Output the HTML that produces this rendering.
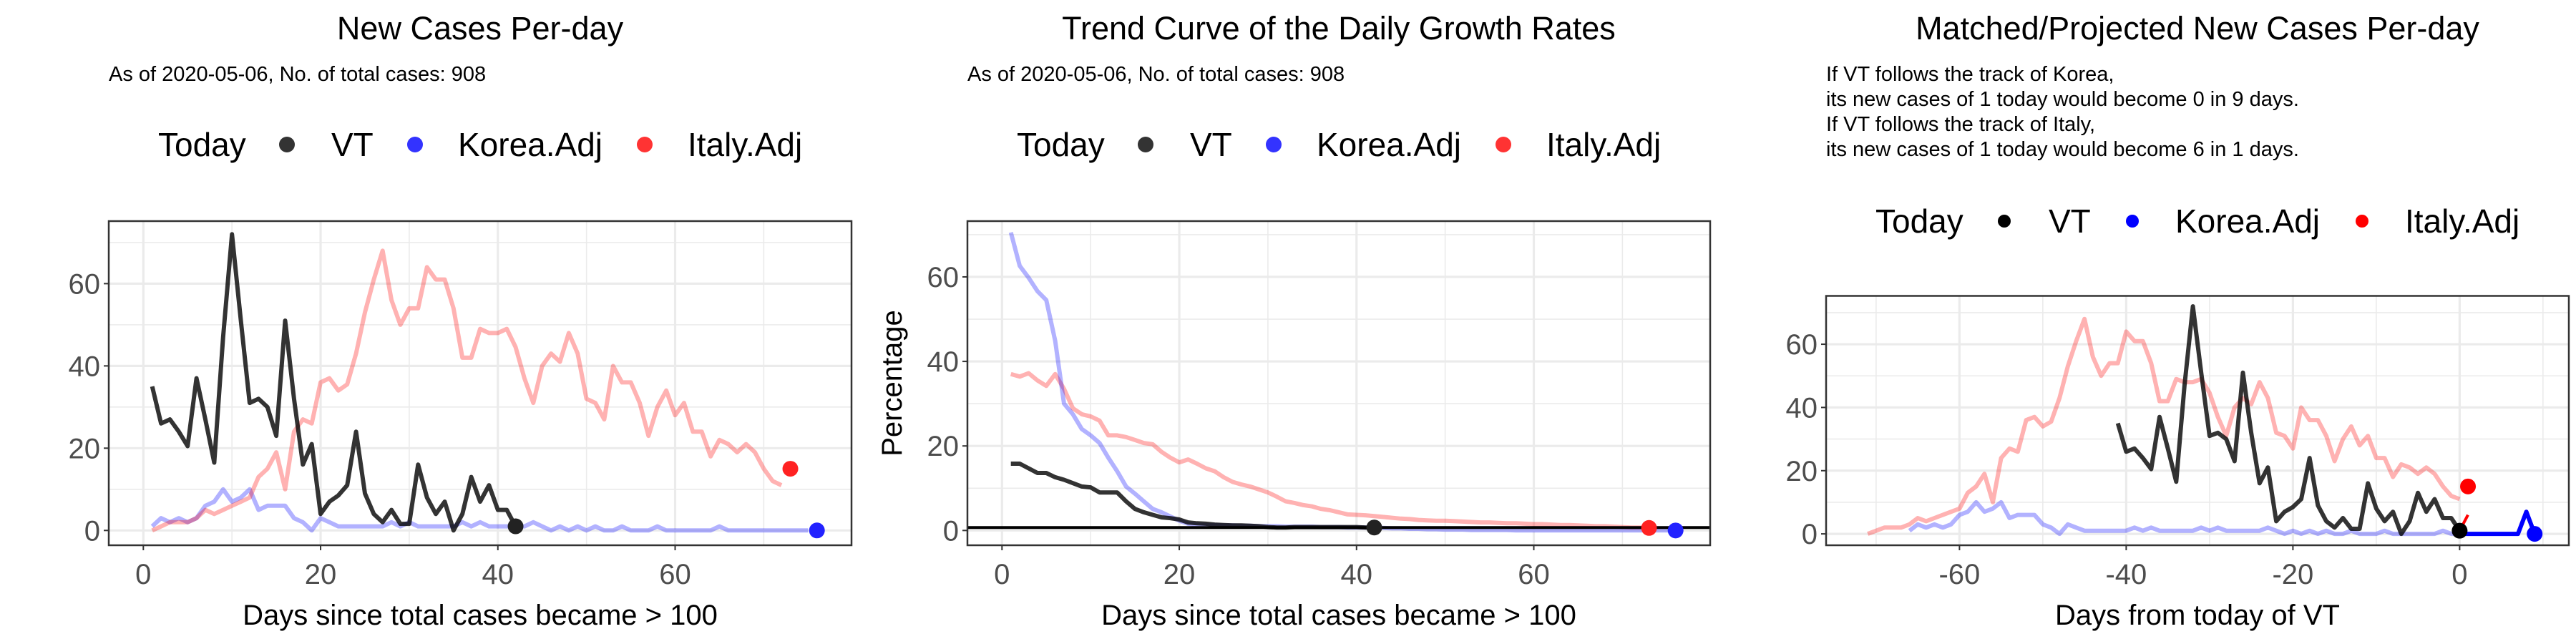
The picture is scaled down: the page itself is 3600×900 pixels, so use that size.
<!DOCTYPE html>
<html><head><meta charset="utf-8">
<style>
html,body{margin:0;padding:0;background:#fff;}
svg{display:block;font-family:"Liberation Sans",Arial,sans-serif;}
</style></head>
<body>
<svg id="chart" width="3600" height="900" viewBox="0 0 3600 900" xmlns="http://www.w3.org/2000/svg"></svg>
<script>
// ---- data ----
const vtDays = [1,2,3,4,5,6,7,8,9,10,11,12,13,14,15,16,17,18,19,20,21,22,23,24,25,26,27,28,29,30,31,32,33,34,35,36,37,38,39,40,41,42];
const vtNew = [35,26,27,24,20.5,37,27,16.5,47,72,51,31,32,30,23,51,32,16,21,4,7,8.5,11,24,9,4,2,5,1.6,1.6,16,8,4,7,0,4,13,7,11,5,5,1];
const italyNew = [0,1,2,2,2,3,5,4,5,6,7,8,13,15,19,10,24,27,26,36,37,34,35.5,43,53,61,68,56,50,54,54,64,61,61,54,42,42,49,48,48,49,44.6,37,31,40,43,41,48,43,32,31,27,40,36,36,31,23,30,34,28,31,24,24,18,22,21,19,21,19,15,12,11];
const koreaNew = [1,3,2,3,2,3,6,7,10,7,8,10,5,6,6,6,3,2,0,3,2,1,1,1,1,1,1,2,1,2,1,1,1,1,1,2,1,2,1,1,1,1,1,2,1,0,1,0,1,0,1,0,0,1,0,0,0,1,0,0,0,0,0,0,1,0,0,0,0,0,0,0,0,0,0];
const vtRate = [15.8,15.8,14.7,13.6,13.6,12.6,12,11.2,10.4,10.2,9,9,9,6.9,5.1,4.3,3.7,3.1,2.9,2.6,1.9,1.7,1.6,1.4,1.3,1.2,1.2,1.1,1.0,0.8,0.7,0.7,0.8,0.8,0.8,0.8,0.8,0.8,0.8,0.8,0.7,0.7];
const koreaRate = [70.5,62.6,59.8,56.6,54.5,44.9,30,27.5,24,22.5,20.7,17.2,14,10.4,8.7,6.9,5.1,4.3,3.3,2.3,1.6,1.4,1.3,1.3,1.2,1.2,1.1,1.1,1.0,1.0,1.0,0.9,0.9,0.9,0.9,0.8,0.8,0.8,0.7,0.7,0.7,0.6,0.6,0.5,0.5,0.4,0.4,0.3,0.3,0.2,0.2,0.2,0.1,0.1,0.1,0.1,0.1,0,0,0,0,0,0,0,0,0,0,0,0,0,0,0,0,0,0,0];
const italyRate = [37,36.4,37.2,35.5,34.2,37,33.5,28.9,27.5,27,26,22.5,22.5,22.1,21.4,20.7,20.4,18.6,17.2,16.1,16.8,15.8,14.7,14,12.6,11.5,10.9,10.4,9.7,9,8,6.9,6.5,6,5.7,5.1,4.8,4.3,3.8,3.7,3.6,3.4,3.2,3.0,2.8,2.7,2.5,2.4,2.3,2.3,2.2,2.1,2.0,1.9,1.9,1.8,1.7,1.7,1.6,1.5,1.5,1.4,1.3,1.3,1.2,1.1,1.0,1.0,0.9,0.8,0.7,0.7,0.6];
const today = {vt:[42,1], korea:[76,0], italy:[73,15]};
const todayRate = {vt:[42,0.7], korea:[76,0], italy:[73,0.6]};
const refLine = 0.7;
const koreaProjX = [0,1,2,3,4,5,6,7,8,9];
const koreaProjY = [0,0,0,0,0,0,0,0,7,0];
const italyProjX = [0,1];
const italyProjY = [1,6];
const today3 = {vt:[0,1], korea:[9,0], italy:[1,15]};
const xTicks12 = [0,20,40,60];
const xMinor12 = [10,30,50,70];
const xTicks3 = [-60,-40,-20,0];
const xMinor3 = [-70,-50,-30,-10,10];
const yTicks = [0,20,40,60];
const yMinor = [10,30,50,70];

const NS='http://www.w3.org/2000/svg';
const svg=document.getElementById('chart');
function el(tag,attrs,parent,text){const e=document.createElementNS(NS,tag);for(const k in attrs)e.setAttribute(k,attrs[k]);if(text!==undefined)e.textContent=text;(parent||svg).appendChild(e);return e;}

function panel(opt){
  const g=el('g',{});
  
  
  const L=opt.L,R=opt.R,T=opt.T,B=opt.B;
  const sx=v=>L+(v-opt.x0)/(opt.x1-opt.x0)*(R-L);
  const sy=v=>B-(v-opt.y0)/(opt.y1-opt.y0)*(B-T);
  opt.yMinor.forEach(v=>{const l=el('line',{x1:L,x2:R,y1:sy(v),y2:sy(v),stroke:'#ebebeb','stroke-width':1.6},g);});
  opt.xMinor.forEach(v=>{const l=el('line',{x1:sx(v),x2:sx(v),y1:T,y2:B,stroke:'#ebebeb','stroke-width':1.6},g);});
  opt.yTicks.forEach(v=>{const l=el('line',{x1:L,x2:R,y1:sy(v),y2:sy(v),stroke:'#ebebeb','stroke-width':3.2},g);});
  opt.xTicks.forEach(v=>{const l=el('line',{x1:sx(v),x2:sx(v),y1:T,y2:B,stroke:'#ebebeb','stroke-width':3.2},g);});
  opt.yTicks.forEach(v=>{
    el('line',{x1:L-7,x2:L,y1:sy(v),y2:sy(v),stroke:'#333','stroke-width':2},g);
    const t=el('text',{x:L-12,y:sy(v)+14,'text-anchor':'end','font-size':40,fill:'#4d4d4d'},g,String(v));
    
  });
  opt.xTicks.forEach(v=>{
    el('line',{x1:sx(v),x2:sx(v),y1:B,y2:B+7,stroke:'#333','stroke-width':2},g);
    const t=el('text',{x:sx(v),y:B+54,'text-anchor':'middle','font-size':40,fill:'#4d4d4d'},g,String(v));
    
  });
  const clip=el('clipPath',{id:opt.name+'-clip'},g);
  el('rect',{x:L,y:T,width:R-L,height:B-T},clip);
  const pg=el('g',{'clip-path':'url(#'+opt.name+'-clip)'},g);
  opt.draw(pg,sx,sy);
  el('rect',{x:L,y:T,width:R-L,height:B-T,fill:'none',stroke:'#333','stroke-width':2.5},g);
  const xt=el('text',{x:(L+R)/2,y:873,'text-anchor':'middle','font-size':40,fill:'#000'},g,opt.xTitle);
  
  if(opt.yTitle){const yt=el('text',{x:0,y:0,'text-anchor':'middle','font-size':40,fill:'#000',transform:'translate('+(opt.L-92)+','+((T+B)/2)+') rotate(-90)'},g,opt.yTitle);
    }
  return g;
}
function line(g,sx,sy,xs,ys,color,name,w){
  const d=xs.map((x,i)=>(i?'L':'M')+sx(x).toFixed(1)+' '+sy(ys[i]).toFixed(1)).join(' ');
  const p=el('path',{d:d,fill:'none',stroke:color,'stroke-width':w||6,'stroke-linejoin':'round'},g);
  
  
}
function dot(g,sx,sy,pt,color,name){
  const c=el('circle',{cx:sx(pt[0]),cy:sy(pt[1]),r:11,fill:color},g);
  
  
}
const idx=a=>a.map((_,i)=>i+1);
const RED='rgba(255,0,0,0.3)',BLUE='rgba(0,0,255,0.3)',BLK='rgba(0,0,0,0.8)';

function header(ox,title,sub,legY,solid){
  const t=el('text',{x:ox+671,y:55,'text-anchor':'middle','font-size':45,fill:'#000'},svg,title);
  
  sub.forEach((s,i)=>{const st=el('text',{x:ox+152,y:113+i*35,'font-size':29,fill:'#000'},svg,s);
    });
  const lg=el('g',{});
  
  el('text',{x:ox+221,y:legY+16,'font-size':46,fill:'#000'},lg,'Today');
  const cols=solid?['#000','#00f','#f00']:['#333','#33f','#f33'];
  const names=['VT','Korea.Adj','Italy.Adj'];const dx=[401,580,901];const tx=[463,640,961];
  names.forEach((n,i)=>{
    const c=el('circle',{cx:ox+dx[i],cy:legY,r:solid?9:11,fill:cols[i]},lg);
    
    const tt=el('text',{x:ox+tx[i],y:legY+16,'font-size':46,fill:'#000'},lg,n);
    
  });
}
const sub12=['As of 2020-05-06, No. of total cases: 908'];
header(0,'New Cases Per-day',sub12,202,false);
header(1200,'Trend Curve of the Daily Growth Rates',sub12,202,false);
header(2400,'Matched/Projected New Cases Per-day',['If VT follows the track of Korea,','its new cases of 1 today would become 0 in 9 days.','If VT follows the track of Italy,','its new cases of 1 today would become 6 in 1 days.'],309,true);

panel({name:'new-cases-panel',L:152,R:1190,T:309,B:762,x0:-3.9,x1:79.9,y0:-3.6,y1:75.2,
  xTicks:xTicks12,xMinor:xMinor12,yTicks:yTicks,yMinor:yMinor,xTitle:'Days since total cases became > 100',
  draw:(g,sx,sy)=>{
    line(g,sx,sy,idx(koreaNew),koreaNew,BLUE,'korea-line');
    line(g,sx,sy,idx(italyNew),italyNew,RED,'italy-line');
    line(g,sx,sy,vtDays,vtNew,BLK,'vt-line');
    dot(g,sx,sy,today.vt,'#222','vt-today-point');
    dot(g,sx,sy,today.korea,'#22f','korea-today-point');
    dot(g,sx,sy,today.italy,'#f22','italy-today-point');
  }});
panel({name:'growth-rate-panel',L:1352,R:2390,T:309,B:762,x0:-3.9,x1:79.9,y0:-3.5,y1:73.2,
  xTicks:xTicks12,xMinor:xMinor12,yTicks:yTicks,yMinor:yMinor,xTitle:'Days since total cases became > 100',yTitle:'Percentage',
  draw:(g,sx,sy)=>{
    line(g,sx,sy,idx(italyRate),italyRate,RED,'italy-rate-line');
    line(g,sx,sy,idx(koreaRate),koreaRate,BLUE,'korea-rate-line');
    line(g,sx,sy,idx(vtRate),vtRate,BLK,'vt-rate-line');
    const h=el('line',{x1:1352,x2:2390,y1:sy(refLine),y2:sy(refLine),stroke:'#000','stroke-width':4},g);
    
    dot(g,sx,sy,todayRate.vt,'#222','vt-today-point');
    dot(g,sx,sy,todayRate.italy,'#f22','italy-today-point');
    dot(g,sx,sy,todayRate.korea,'#22f','korea-today-point');
  }});
panel({name:'projection-panel',L:2552,R:3590,T:413.5,B:762,x0:-76,x1:13.1,y0:-3.6,y1:75.3,
  xTicks:xTicks3,xMinor:xMinor3,yTicks:yTicks,yMinor:yMinor,xTitle:'Days from today of VT',
  draw:(g,sx,sy)=>{
    const it=italyNew.map((_,i)=>i+1-72);
    line(g,sx,sy,it,italyNew,RED,'italy-matched-line');
    const kx=koreaNew.slice(0,67).map((_,i)=>i+1-67);
    line(g,sx,sy,kx,koreaNew.slice(0,67),BLUE,'korea-matched-line');
    line(g,sx,sy,vtDays.map(d=>d-42),vtNew,BLK,'vt-line');
    line(g,sx,sy,koreaProjX,koreaProjY,'#00f','korea-projection-line');
    line(g,sx,sy,italyProjX,italyProjY,'#f00','italy-projection-line',4);
    dot(g,sx,sy,today3.vt,'#000','vt-today-point');
    dot(g,sx,sy,today3.korea,'#00f','korea-end-point');
    dot(g,sx,sy,today3.italy,'#f00','italy-end-point');
  }});
</script>
</body></html>
